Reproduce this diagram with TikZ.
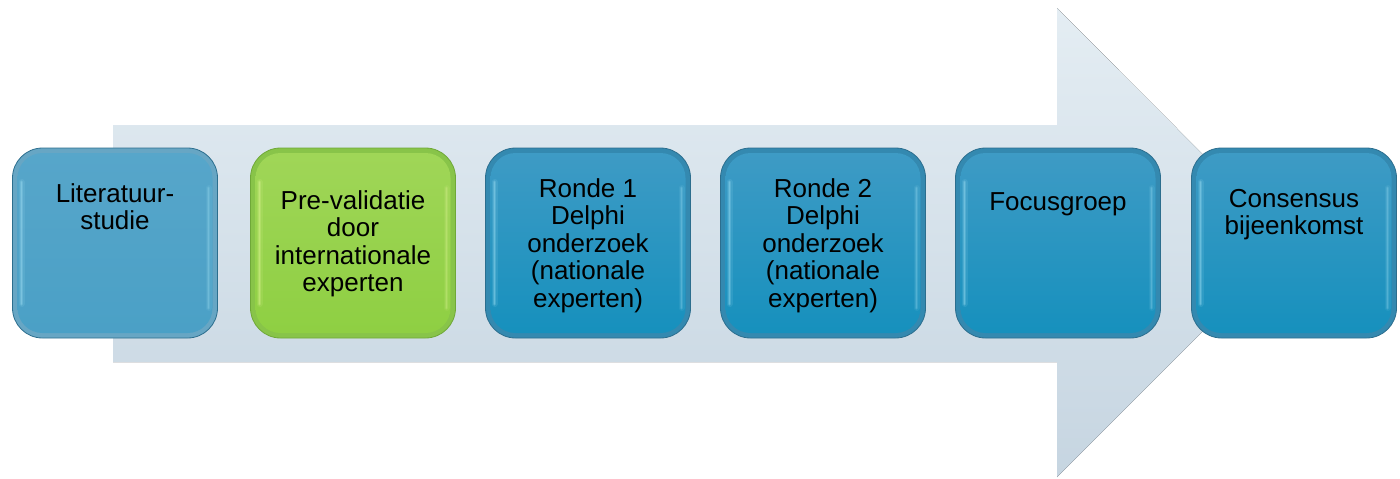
\documentclass[tikz,border=0pt]{standalone}
\usepackage{fontspec}
\setmainfont{Liberation Sans}
\usetikzlibrary{calc}

\definecolor{arrowtop}{HTML}{E4EDF3}
\definecolor{arrowbot}{HTML}{C6D5E1}
\definecolor{bluerim}{HTML}{3489B0}
\definecolor{blueedge}{HTML}{2C6E8E}
\definecolor{bluetop}{HTML}{3F9BC5}
\definecolor{bluebot}{HTML}{1590BD}
\definecolor{paletop}{HTML}{57A6CA}
\definecolor{palebot}{HTML}{4AA0C6}
\definecolor{greenrim}{HTML}{88C449}
\definecolor{greenedge}{HTML}{6FA838}
\definecolor{greentop}{HTML}{A0D658}
\definecolor{greenbot}{HTML}{8ECF42}
\definecolor{greenhi}{HTML}{E6F79C}
\definecolor{bluehi}{HTML}{A6E4F7}

% text of a step: first baseline #1 pt below the top edge of the box
\newcommand{\steptext}[2]{\parbox[c][190pt][t]{200pt}{\centering
  \fontsize{26}{27.5}\selectfont\rule{0pt}{#1pt}#2\par}}

\tikzset{
  stepbox/.style n args={5}{
    rectangle, rounded corners=30pt, inner sep=0pt,
    minimum width=205pt, minimum height=190pt,
    fill=#1, draw=#2, line width=0.8pt, text=black,
    path picture={
      \fill[rounded corners=25pt, top color=#3, bottom color=#4]
        ([shift={(5pt,-5pt)}]path picture bounding box.north west) rectangle
        ([shift={(-5pt,5pt)}]path picture bounding box.south east);
      \foreach \w/\o in {6pt/0.12, 3.5pt/0.22, 1.5pt/0.3} {
        \draw[#5, opacity=\o, line width=\w, line cap=round]
          ([shift={(9pt,-34pt)}]path picture bounding box.north west) --
          ([shift={(9pt,34pt)}]path picture bounding box.south west);
        \draw[#5, opacity=0.7*\o, line width=\w, line cap=round]
          ([shift={(-9pt,-40pt)}]path picture bounding box.north east) --
          ([shift={(-9pt,30pt)}]path picture bounding box.south east);
      }
    }
  },
  bluestep/.style={stepbox={bluerim}{blueedge}{bluetop}{bluebot}{bluehi}},
  palestep/.style={stepbox={bluerim!75!white}{blueedge}{paletop}{palebot}{bluehi}},
  greenstep/.style={stepbox={greenrim}{greenedge}{greentop}{greenbot}{greenhi}}
}

\begin{document}
\begin{tikzpicture}[x=1pt, y=-1pt]
  \useasboundingbox (0,0) rectangle (1400,479);

  % large background arrow
  \coordinate (shaftNW) at (113,125);
  \coordinate (shaftSW) at (113,362);
  \coordinate (headN) at (1057,8);
  \coordinate (headS) at (1057,477);
  \coordinate (tip) at (1291,243);
  \fill[top color=arrowtop, bottom color=arrowbot]
    (shaftNW) -- (1057,125) -- (headN) -- (tip) -- (headS)
    -- (1057,362) -- (shaftSW) -- cycle;

  % steps
  \node[palestep]  (s1) at (115,243)  {\steptext{54}{Literatuur-\\studie}};
  \node[greenstep] (s2) at (353,243)  {\steptext{61}{Pre-validatie\\door\\internationale\\experten}};
  \node[bluestep]  (s3) at (588,243)  {\steptext{49}{Ronde 1\\Delphi\\onderzoek\\(nationale\\experten)}};
  \node[bluestep]  (s4) at (823,243)  {\steptext{49}{Ronde 2\\Delphi\\onderzoek\\(nationale\\experten)}};
  \node[bluestep]  (s5) at (1058,243) {\steptext{62}{Focusgroep}};
  \node[bluestep]  (s6) at (1294,243) {\steptext{59}{Consensus\\bijeenkomst}};
\end{tikzpicture}
\end{document}
